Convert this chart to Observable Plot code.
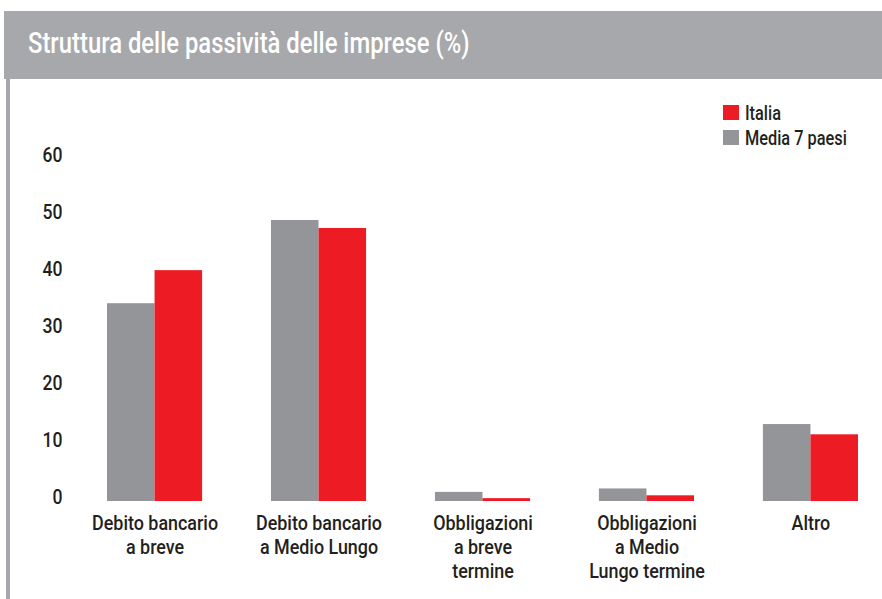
<!DOCTYPE html>
<html><head><meta charset="utf-8">
<script src="https://cdn.jsdelivr.net/npm/d3@7"></script>
<script src="https://cdn.jsdelivr.net/npm/@observablehq/plot@0.6"></script>
<style>
body{margin:0;background:#fff;}
#wrap{position:relative;width:882px;height:599px;overflow:hidden;font-family:Roboto,"Liberation Sans",sans-serif;font-weight:500;color:#231f20;}
#header{position:absolute;left:4px;top:11px;width:878px;height:68px;background:#a7a8ab;}
#title{position:absolute;left:28px;top:29px;font-size:29px;line-height:29px;color:#fff;white-space:nowrap;transform-origin:0 0;}
#border{position:absolute;left:6px;top:79px;width:4px;height:520px;background:#a7a8ab;}
#chart{position:absolute;left:0;top:79px;}
#legend{position:absolute;left:723px;top:102.5px;font-size:20px;}
.row{position:relative;height:25px;width:150px;}
.sw{position:absolute;left:0;top:2.5px;width:16px;height:15px;}
.lab{position:absolute;left:22px;top:0;line-height:20px;white-space:nowrap;transform-origin:0 0;}
</style></head>
<body>
<div id="wrap">
  <div id="header"></div>
  <div id="title">Struttura delle passività delle imprese (%)</div>
  <div id="border"></div>
  <div id="chart"></div>
  <div id="legend"></div>
</div>
<script>
const categories = ["Debito bancario\na breve", "Debito bancario\na Medio Lungo", "Obbligazioni\na breve\ntermine", "Obbligazioni\na Medio\nLungo termine", "Altro"];
const series = ["Media 7 paesi", "Italia"];
const media7 = [34.7, 49.3, 1.6, 2.2, 13.5];
const italia = [40.5, 47.9, 0.5, 1.0, 11.7];
const colors = ["#939598", "#ed1c24"];
const yTicks = [0, 10, 20, 30, 40, 50, 60];
const legendOrder = ["Italia", "Media 7 paesi"];

const data = [];
categories.forEach((c, i) => {
  data.push({cat: c, series: series[0], value: media7[i]});
  data.push({cat: c, series: series[1], value: italia[i]});
});

// condensed look: horizontal scale factors measured against the reference widths
const ctx = document.createElement("canvas").getContext("2d");
function measure(txt, size) { ctx.font = `500 ${size}px Roboto`; return ctx.measureText(txt).width; }
const sCat = 126 / measure("Debito bancario", 20);
const sTick = 20 / measure("60", 21);

const chart = Plot.plot({
  width: 882, height: 520,
  marginTop: 80, marginBottom: 98, marginLeft: 107, marginRight: 24,
  fx: {domain: categories, paddingInner: 0.42, paddingOuter: 0, round: false, label: null},
  x: {domain: series, padding: 0, round: false, axis: null},
  y: {domain: [0, 60], label: null},
  color: {domain: series, range: colors},
  style: {fontFamily: 'Roboto,"Liberation Sans",sans-serif', fontWeight: 500, fontSize: "20px", color: "#231f20", background: "transparent"},
  marks: [
    Plot.barY(data, {fx: "cat", x: "series", y: "value", fill: "series"}),
    Plot.axisY({ticks: yTicks, tickSize: 0, tickPadding: 45, dy: -4, fontSize: 21, label: null}),
    Plot.axisFx({anchor: "bottom", tickSize: 0, tickPadding: 11, fontSize: 20, lineHeight: 1.2, label: null})
  ]
});
document.getElementById("chart").appendChild(chart);

function condense(sel, s) {
  chart.querySelectorAll(sel).forEach(t => {
    const spans = t.querySelectorAll("tspan");
    const els = spans.length ? Array.from(spans) : [t];
    els.forEach(e => {
      const w = e.getComputedTextLength();
      if (w > 0) {
        e.setAttribute("textLength", (w * s).toFixed(2));
        e.setAttribute("lengthAdjust", "spacingAndGlyphs");
      }
    });
  });
}
condense('g[aria-label="y-axis tick label"] text', sTick);
condense('g[aria-label="fx-axis tick label"] text', sCat);

const color = d3.scaleOrdinal(series, colors);
const leg = document.getElementById("legend");
legendOrder.forEach(s => {
  const r = document.createElement("div"); r.className = "row";
  const sw = document.createElement("div"); sw.className = "sw"; sw.style.background = color(s);
  const t = document.createElement("div"); t.className = "lab"; t.textContent = s;
  r.appendChild(sw); r.appendChild(t); leg.appendChild(r);
});
const labs = leg.querySelectorAll(".lab");
const sLeg = 102 / labs[1].offsetWidth;
labs.forEach(l => l.style.transform = `scaleX(${sLeg})`);
const title = document.getElementById("title");
title.style.transform = `scaleX(${442 / title.offsetWidth})`;
</script>
</body></html>
